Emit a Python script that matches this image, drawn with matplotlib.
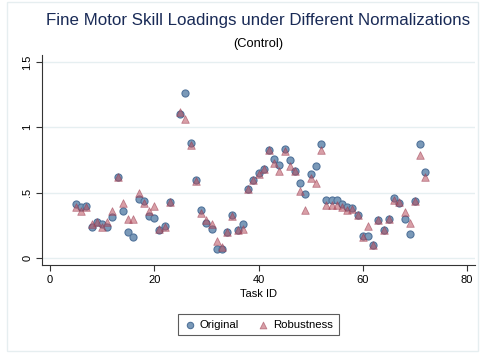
import matplotlib
matplotlib.use('Agg')
import matplotlib.pyplot as plt
from matplotlib.patches import Rectangle

# Task IDs (no task 24)
task_id = list(range(5, 24)) + list(range(25, 73))

# Loadings with the original normalization
original = [0.415, 0.39, 0.40, 0.237, 0.277, 0.26, 0.237, 0.313, 0.618, 0.361,
            0.20, 0.163, 0.455, 0.435, 0.32, 0.307, 0.216, 0.25, 0.427,
            1.10, 1.26, 0.878, 0.598, 0.369, 0.272, 0.226, 0.069, 0.069, 0.20,
            0.328, 0.214, 0.262, 0.527, 0.598, 0.654, 0.679, 0.827, 0.76, 0.712,
            0.837, 0.75, 0.664, 0.577, 0.488, 0.641, 0.702, 0.872, 0.443, 0.443,
            0.443, 0.415, 0.394, 0.384, 0.328, 0.168, 0.168, 0.099, 0.292, 0.214,
            0.302, 0.463, 0.42, 0.298, 0.186, 0.44, 0.872, 0.661]

# Loadings with the robustness normalization
robustness = [0.39, 0.365, 0.39, 0.26, 0.28, 0.237, 0.277, 0.363, 0.618, 0.42,
              0.298, 0.298, 0.50, 0.42, 0.363, 0.40, 0.225, 0.237, 0.427,
              1.117, 1.066, 0.862, 0.59, 0.348, 0.292, 0.262, 0.13, 0.089, 0.20,
              0.323, 0.216, 0.226, 0.527, 0.598, 0.644, 0.679, 0.827, 0.73, 0.664,
              0.817, 0.705, 0.664, 0.511, 0.372, 0.613, 0.572, 0.827, 0.409, 0.404,
              0.404, 0.394, 0.369, 0.38, 0.328, 0.165, 0.247, 0.099, 0.292, 0.214,
              0.302, 0.445, 0.43, 0.353, 0.272, 0.44, 0.791, 0.618]

x_ticks = [0, 20, 40, 60, 80]
y_ticks = [0, 0.5, 1, 1.5]
y_tick_labels = ['0', '.5', '1', '1.5']

plt.rcParams['font.family'] = ['Liberation Sans', 'DejaVu Sans']

W, H = 482, 353
fig = plt.figure(figsize=(W / 100, H / 100), dpi=100)
fig.patch.set_facecolor('white')

# faint outer frame around the graph region
fig.patches.append(Rectangle((7 / W, 2 / H), 471 / W, 349 / H, transform=fig.transFigure,
                             fill=False, edgecolor='#e6eef0', linewidth=1))

ax = fig.add_axes([42 / W, 88 / H, 433 / W, 209.8 / H])

ax.scatter(task_id, original, s=26, marker='o', facecolor='#7a99b8',
           edgecolor='#51739a', linewidth=0.8, label='Original', zorder=3)
ax.scatter(task_id, robustness, s=30, marker='^', facecolor='#b8505f',
           edgecolor='#9a3a4e', linewidth=0.6, alpha=0.55, label='Robustness', zorder=4)

ax.set_xlim(-1.5, 81.5)
ax.set_ylim(-0.051, 1.551)
ax.set_xticks(x_ticks)
ax.set_yticks(y_ticks)
ax.set_yticklabels(y_tick_labels, rotation=90, va='center')
ax.tick_params(axis='both', direction='out', length=4, width=0.8, color='#333333',
               labelsize=8, labelcolor='black', pad=3)
ax.grid(axis='y', color='#e6eff1', linewidth=1)
ax.set_axisbelow(True)
for side in ['top', 'right']:
    ax.spines[side].set_visible(False)
for side in ['left', 'bottom']:
    ax.spines[side].set_color('#333333')
    ax.spines[side].set_linewidth(0.8)

ax.set_xlabel('Task ID', fontsize=8, labelpad=3)

fig.text(258.5 / W, 1 - 21 / H, 'Fine Motor Skill Loadings under Different Normalizations',
         ha='center', va='center', fontsize=12.2, color='#1a2b57')
fig.text(258.5 / W, 1 - 44 / H, '(Control)', ha='center', va='center', fontsize=9.3,
         color='black')

handles, labels = ax.get_legend_handles_labels()
leg = fig.legend(handles, labels, loc='center', bbox_to_anchor=(258.5 / W, 1 - 324.5 / H),
                 ncol=2, fontsize=8.2, frameon=True, fancybox=False, edgecolor='#333333',
                 handletextpad=0.4, columnspacing=1.6, borderpad=0.5, handlelength=1,
                 markerscale=0.9)
leg.get_frame().set_linewidth(0.8)

fig.savefig('out.png', dpi=100)
